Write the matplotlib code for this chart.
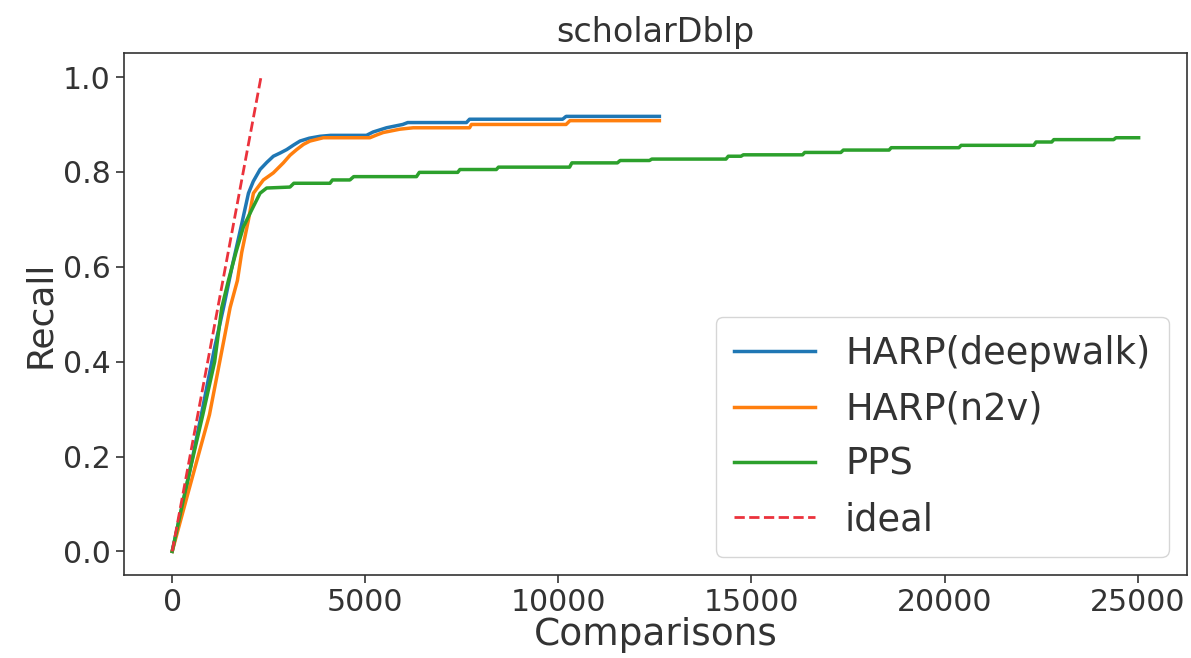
import matplotlib
matplotlib.use("Agg")
from matplotlib import pyplot as plt

# recall curves (comparisons, recall)
deepwalk_x = [0, 380, 760, 1100, 1330, 1550, 1800, 1975, 2100, 2275, 2450, 2620, 2800,
              2965, 3150, 3310, 3550, 3826, 4100, 5030, 5200, 5550, 5970, 6100, 7620,
              7700, 10110, 10200, 12616]
deepwalk_y = [0.0, 0.14, 0.29, 0.43, 0.514, 0.60, 0.69, 0.755, 0.78, 0.805, 0.82, 0.833, 0.84,
              0.847, 0.857, 0.865, 0.871, 0.875, 0.877, 0.877, 0.884, 0.893, 0.900, 0.904, 0.904,
              0.911, 0.911, 0.917, 0.917]

n2v_x = [0, 400, 965, 1350, 1500, 1689, 1800, 1975, 2103, 2361, 2620, 2878, 3050, 3223,
         3400, 3568, 3913, 5119, 5300, 5464, 5894, 6240, 7700, 7750, 10200, 10300, 12616]
n2v_y = [0.0, 0.12, 0.288, 0.45, 0.514, 0.571, 0.63, 0.699, 0.755, 0.783, 0.798, 0.819, 0.835,
         0.847, 0.858, 0.865, 0.872, 0.872, 0.878, 0.883, 0.890, 0.893, 0.893, 0.900, 0.900,
         0.908, 0.908]

pps_x = [0, 400, 793, 1100, 1284, 1456, 1650, 1844, 2060, 2275, 2447, 3050, 3150, 4085,
         4150, 4602, 4700, 6326, 6400, 7394, 7450, 8394, 8450, 10290, 10350, 11530, 11600,
         12358, 12420, 14340, 14400, 14730, 14790, 16323, 16380, 17315, 17380, 18563, 18620,
         20372, 20430, 22311, 22370, 22776, 22830, 24379, 24440, 25026]
pps_y = [0.0, 0.15, 0.288, 0.40, 0.514, 0.571, 0.63, 0.684, 0.720, 0.755, 0.766, 0.768, 0.776,
         0.776, 0.783, 0.783, 0.790, 0.790, 0.799, 0.799, 0.805, 0.805, 0.810, 0.810, 0.819,
         0.819, 0.824, 0.824, 0.827, 0.827, 0.833, 0.833, 0.836, 0.836, 0.841, 0.841, 0.846,
         0.846, 0.851, 0.851, 0.856, 0.856, 0.863, 0.863, 0.868, 0.868, 0.872, 0.872]

ideal_x = [0, 2300]
ideal_y = [0.0, 1.0]

txt = '#333333'
plt.rcParams['text.color'] = txt
plt.rcParams['axes.labelcolor'] = txt
plt.rcParams['xtick.color'] = txt
plt.rcParams['ytick.color'] = txt
plt.rcParams['axes.edgecolor'] = txt

fig = plt.figure(figsize=(11.91, 6.58), dpi=100)
ax = fig.add_axes([0.104, 0.126, 0.8926, 0.793])
ax.plot(deepwalk_x, deepwalk_y, color='#1f77b4', lw=2.5, label='HARP(deepwalk)')
ax.plot(n2v_x, n2v_y, color='#ff7f0e', lw=2.5, label='HARP(n2v)')
ax.plot(pps_x, pps_y, color='#2ca02c', lw=2.5, label='PPS')
ax.plot(ideal_x, ideal_y, color='#eb323c', lw=2.0, ls='--', label='ideal')
ax.set_title('scholarDblp', fontsize=24, pad=8)
ax.set_xlabel('Comparisons', fontsize=27, labelpad=0)
ax.set_ylabel('Recall', fontsize=26)
ax.tick_params(labelsize=21.5, length=6, width=1.2)
for s in ax.spines.values():
    s.set_linewidth(1.2)
ax.legend(loc='lower right', fontsize=26.5, handlelength=2.2,
          labelspacing=0.5, borderpad=0.5)
plt.savefig('out.png', dpi=100)
